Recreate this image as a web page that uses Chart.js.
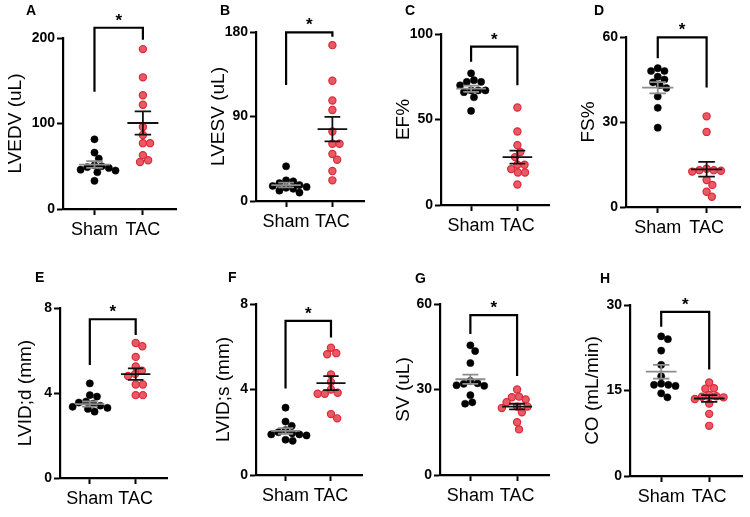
<!DOCTYPE html>
<html><head><meta charset="utf-8">
<script src="https://cdn.jsdelivr.net/npm/chart.js@4.4.1/dist/chart.umd.min.js"></script>
<style>
html,body{margin:0;padding:0;background:#fff;}
#wrap{position:relative;width:750px;height:517px;overflow:hidden;background:#fff;}
#wrap canvas{position:absolute;}
.letter{position:absolute;font:bold 14px "Liberation Sans",Arial,sans-serif;line-height:14px;color:#000;}
</style></head><body><div id="wrap"></div>
<script>
// ---------- data ----------
const categories = ['Sham', 'TAC'];
const panelLetters = ['A', 'B', 'C', 'D', 'E', 'F', 'G', 'H'];
const yTitles = ['LVEDV (uL)', 'LVESV (uL)', 'EF%', 'FS%', 'LVID;d (mm)', 'LVID;s (mm)', 'SV (uL)', 'CO (mL/min)'];
const yMaxima = [200, 180, 100, 60, 8, 8, 60, 30];
const yTickValues = [[0, 100, 200], [0, 90, 180], [0, 50, 100], [0, 30, 60], [0, 4, 8], [0, 4, 8], [0, 30, 60], [0, 15, 30]];

const lvedvSham = [81.5, 66, 59, 51, 50, 49, 48, 46, 45, 43, 33];
const lvedvTac  = [187, 154, 133, 122, 96, 86.5, 77, 77, 63, 57, 55];
const lvesvSham = [37, 22, 21, 19, 17, 16, 15, 14, 13, 11, 9];
const lvesvTac  = [166, 128, 107, 97, 74, 61, 61, 50, 44, 32, 22];
const efSham    = [77, 73, 72, 72, 70, 67, 67, 67, 66, 63, 55];
const efTac     = [57, 43, 35, 31, 28, 23.5, 23.5, 21, 19, 19, 12];
const fsSham    = [49, 48, 48, 46, 45, 44, 43, 42, 39, 35, 28];
const fsTac     = [32, 26.5, 13.5, 13, 13, 12.8, 12.5, 9.5, 7.8, 5.4, 3.6];
const lvidDSham = [4.45, 3.9, 3.83, 3.6, 3.55, 3.5, 3.4, 3.35, 3.3, 3.25, 3.12];
const lvidDTac  = [6.35, 6.2, 5.7, 5.25, 5.05, 4.9, 4.8, 4.4, 4.4, 3.9, 3.9];
const lvidSSham = [3.15, 2.5, 2.3, 2.1, 2.0, 1.95, 1.9, 1.9, 1.85, 1.65, 1.6];
const lvidSTac  = [5.95, 5.7, 5.65, 4.7, 4.35, 4.0, 3.85, 3.8, 3.8, 2.85, 2.65];
const svSham    = [45.5, 43.5, 39.3, 33, 32.2, 32, 31.5, 31.3, 28, 25.5, 25];
const svTac     = [30, 27.5, 27.3, 26.5, 25.5, 24, 24, 23.5, 22, 18.5, 16];
const coSham    = [24.5, 24, 22, 19.5, 17.5, 16.2, 16, 16, 15.8, 14.5, 13.8];
const coTac     = [16.4, 15.4, 15.3, 14.2, 14, 13.9, 13.8, 13.5, 12.7, 10.9, 8.8];

const shamMeans = [52, 17, 68, 42.1, 3.48, 2.06, 33.6, 18.3];
const shamSems  = [4, 2.5, 1.8, 2, 0.12, 0.13, 1.6, 1.2];
const tacMeans  = [100.6, 76.5, 28, 13.3, 4.89, 4.3, 24, 13.6];
const tacSems   = [13.5, 13, 3.8, 2.6, 0.27, 0.33, 1.0, 0.6];

const bracketLeft  = [137, 123.5, 83.8, 52.5, 5.32, 4.05, 49.5, 26.2];
const bracketTop   = [212, 179.6, 92.6, 59.9, 7.47, 7.21, 56.1, 28.8];
const bracketRight = [198, 175, 70, 42.2, 6.73, 6.43, 34.7, 18.7];
const significance = ['*', '*', '*', '*', '*', '*', '*', '*'];

const shamSeries = [lvedvSham, lvesvSham, efSham, fsSham, lvidDSham, lvidSSham, svSham, coSham];
const tacSeries  = [lvedvTac, lvesvTac, efTac, fsTac, lvidDTac, lvidSTac, svTac, coTac];

// ---------- layout / style ----------
const boxes = [
  {left: 0,   top: 0,   axisX: 63,  right: 182, plotTop: 38,  plotBottom: 209, lx: 26,  ly: 3},
  {left: 203, top: 0,   axisX: 256, right: 370, plotTop: 32,  plotBottom: 201, lx: 220, ly: 3},
  {left: 388, top: 0,   axisX: 441, right: 555, plotTop: 34,  plotBottom: 205, lx: 405, ly: 3},
  {left: 573, top: 0,   axisX: 626, right: 746, plotTop: 37,  plotBottom: 207, lx: 594, ly: 3},
  {left: 10,  top: 258, axisX: 60,  right: 173, plotTop: 308, plotBottom: 478, lx: 35,  ly: 270},
  {left: 208, top: 258, axisX: 256, right: 368, plotTop: 304, plotBottom: 475, lx: 228, ly: 270},
  {left: 388, top: 258, axisX: 440, right: 555, plotTop: 304, plotBottom: 475, lx: 415, ly: 271},
  {left: 577, top: 258, axisX: 630, right: 748, plotTop: 305, plotBottom: 476, lx: 600, ly: 271}
];
const X_MIN = 0.35, X_MAX = 2.7, X_AXIS_H = 38;
const FONT = "'Liberation Sans', Arial, sans-serif";
const RED_FILL = '#ea5a66', RED_EDGE = '#dc2a38';
const DOT_R = 3.6;

Chart.defaults.font.family = FONT;
Chart.defaults.color = '#000';

function swarm(values, center, pxPerX, pxPerY, diam) {
  const placed = [];
  return values.map(v => {
    const py = v * pxPerY;
    let dx = 0;
    for (let k = 0; k < 400; k++) {
      const cand = k === 0 ? 0 : ((k % 2) ? 1 : -1) * Math.ceil(k / 2) * 0.5;
      if (placed.every(p => (p.x - cand) ** 2 + (p.y - py) ** 2 >= diam * diam)) { dx = cand; break; }
    }
    placed.push({x: dx, y: py});
    return {x: center + dx / pxPerX, y: v};
  });
}

function meanSem(g, m, s) {
  return [
    {x: g - 0.32, y: m}, {x: g + 0.32, y: m}, {x: g, y: null},
    {x: g - 0.17, y: m + s}, {x: g + 0.17, y: m + s}, {x: g, y: null},
    {x: g, y: m + s}, {x: g, y: m - s}, {x: g, y: null},
    {x: g - 0.17, y: m - s}, {x: g + 0.17, y: m - s}
  ];
}

const starPlugin = {
  id: 'star',
  afterDatasetsDraw(chart) {
    const i = chart.$panel;
    const xs = chart.scales.x, ys = chart.scales.y;
    const cx = (xs.getPixelForValue(1) + xs.getPixelForValue(2)) / 2;
    const cy = ys.getPixelForValue(bracketTop[i]);
    const ctx = chart.ctx;
    ctx.save();
    ctx.fillStyle = '#000';
    ctx.font = 'bold 17px ' + FONT;
    ctx.textAlign = 'center';
    ctx.textBaseline = 'alphabetic';
    ctx.fillText(significance[i], cx, cy - 2);
    ctx.restore();
  }
};

const wrap = document.getElementById('wrap');
boxes.forEach((b, i) => {
  const w = b.right - b.left;
  const h = b.plotBottom - b.top + X_AXIS_H;
  const cv = document.createElement('canvas');
  cv.width = w; cv.height = h;
  cv.style.left = b.left + 'px'; cv.style.top = b.top + 'px';
  cv.style.width = w + 'px'; cv.style.height = h + 'px';
  wrap.appendChild(cv);

  const lt = document.createElement('div');
  lt.className = 'letter';
  lt.textContent = panelLetters[i];
  lt.style.left = b.lx + 'px'; lt.style.top = b.ly + 'px';
  wrap.appendChild(lt);

  const pxPerX = (b.right - b.axisX) / (X_MAX - X_MIN);
  const pxPerY = (b.plotBottom - b.plotTop) / yMaxima[i];
  const shamPts = swarm(shamSeries[i], 1, pxPerX, pxPerY, 7.4);
  const tacPts = swarm(tacSeries[i], 2, pxPerX, pxPerY, 7.4);

  const chart = new Chart(cv, {
    type: 'scatter',
    data: {
      datasets: [
        {label: 'Sham mean ± SEM', data: meanSem(1, shamMeans[i], shamSems[i]), showLine: true,
         borderColor: '#8c8c8c', borderWidth: 1.8, pointRadius: 0, spanGaps: false},
        {label: 'TAC mean ± SEM', data: meanSem(2, tacMeans[i], tacSems[i]), showLine: true,
         borderColor: '#111', borderWidth: 1.8, pointRadius: 0, spanGaps: false},
        {label: 'bracket', data: [{x: 1, y: bracketLeft[i]}, {x: 1, y: bracketTop[i]}, {x: 2, y: bracketTop[i]}, {x: 2, y: bracketRight[i]}],
         showLine: true, borderColor: '#000', borderWidth: 2.2, pointRadius: 0, clip: false, borderJoinStyle: 'miter'},
        {label: 'Sham', data: shamPts, pointRadius: DOT_R, backgroundColor: '#000', borderColor: '#000', borderWidth: 0.5},
        {label: 'TAC', data: tacPts, pointRadius: DOT_R, backgroundColor: RED_FILL, borderColor: RED_EDGE, borderWidth: 1.2}
      ]
    },
    options: {
      responsive: false, animation: false, events: [],
      layout: {padding: {top: b.plotTop - b.top, left: 0, right: 0, bottom: 0}},
      plugins: {legend: {display: false}, tooltip: {enabled: false}},
      scales: {
        x: {
          type: 'linear', min: X_MIN, max: X_MAX,
          afterBuildTicks: s => { s.ticks = [{value: 1}, {value: 2}]; },
          afterFit: s => { s.height = X_AXIS_H; },
          ticks: {callback: v => categories[v - 1], font: {size: 18, family: FONT}, color: '#000', padding: 4, maxRotation: 0, autoSkip: false},
          grid: {display: true, drawOnChartArea: false, drawTicks: true, tickLength: 6, tickWidth: 2, tickColor: '#000'},
          border: {display: true, color: '#000', width: 2.2}
        },
        y: {
          type: 'linear', min: 0, max: yMaxima[i],
          afterBuildTicks: s => { s.ticks = yTickValues[i].map(v => ({value: v})); },
          afterFit: s => { s.width = b.axisX - b.left; },
          ticks: {font: {size: 14, weight: 'bold', family: FONT}, color: '#000', padding: 2},
          grid: {display: true, drawOnChartArea: false, drawTicks: true, tickLength: 6, tickWidth: 2, tickColor: '#000'},
          border: {display: true, color: '#000', width: 2.2},
          title: {display: true, text: yTitles[i], font: {size: 19, family: FONT}, color: '#000', padding: {top: 4, bottom: 0}}
        }
      }
    },
    plugins: [starPlugin]
  });
  chart.$panel = i;
  chart.draw();
});
</script></body></html>
